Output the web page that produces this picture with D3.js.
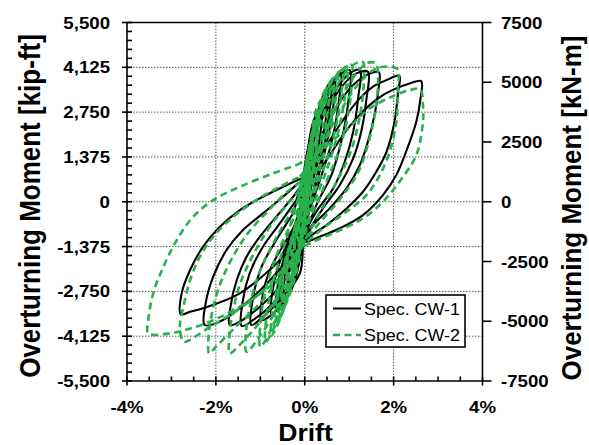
<!DOCTYPE html>
<html><head><meta charset="utf-8">
<script src="https://cdn.jsdelivr.net/npm/d3@7/dist/d3.min.js"></script>
<style>
html,body{margin:0;padding:0;background:#fff;}
svg{display:block;font-family:"Liberation Sans",Arial,sans-serif;}
</style></head>
<body><svg id="c" width="589" height="445"></svg>
<script>
// ---- axis / tick data ----
const xTicks = [-4, -2, 0, 2, 4];
const xTickLabels = ["-4%", "-2%", "0%", "2%", "4%"];
const yLeftTicks = [-5500, -4125, -2750, -1375, 0, 1375, 2750, 4125, 5500];
const yLeftLabels = ["-5,500", "-4,125", "-2,750", "-1,375", "0", "1,375", "2,750", "4,125", "5,500"];
const yRightTicks = [-7500, -5000, -2500, 0, 2500, 5000, 7500];
const seriesNames = ["Spec. CW-1", "Spec. CW-2"];

// ---- Spec. CW-1 loops: [drift %, moment kip-ft] ----
const cw1_loop1 = [[-0.11,700],[0.26,900],[0.56,1432],[0.86,2046],[1.16,2558],[1.46,2966],[1.76,3272],[2.06,3478],[2.36,3630],[2.62,3700],[2.6,3120],[2.51,2455],[2.28,1535],[2.06,820],[1.76,205],[1.31,-410],[0.79,-815],[0.34,-1073],[0.04,-1227],[-0.19,-1276],[-0.71,-1993],[-1.46,-2810],[-2.29,-3270],[-2.58,-3374],[-2.79,-3454],[-2.77,-2810],[-2.58,-2095],[-2.29,-1380],[-1.91,-767],[-1.46,-255],[-0.94,153],[-0.49,460],[-0.11,700]];
const cw1_loop2 = [[-0.15,563],[0.11,717],[0.34,1331],[0.64,2046],[0.94,2659],[1.24,3171],[1.53,3527],[1.84,3733],[2.13,3865],[2.1,3374],[2.02,2454],[1.84,1534],[1.61,920],[1.31,307],[0.94,-204],[0.49,-715],[0.11,-1073],[-0.26,-1583],[-0.71,-2300],[-1.24,-3015],[-1.84,-3628],[-2.25,-3782],[-2.23,-3117],[-2.06,-2300],[-1.76,-1482],[-1.39,-868],[-0.94,-358],[-0.49,153],[-0.15,563]];
const cw1_loop3 = [[-0.26,153],[-0.04,613],[0.19,1432],[0.49,2352],[0.79,3067],[1.09,3579],[1.39,3886],[1.67,3968],[1.66,3478],[1.57,2659],[1.42,1840],[1.24,1126],[0.94,410],[0.56,-204],[0.19,-715],[0.0,-1150],[-0.19,-1750],[-0.56,-2607],[-1.01,-3220],[-1.46,-3680],[-1.69,-3782],[-1.67,-3220],[-1.53,-2401],[-1.31,-1687],[-1.01,-1073],[-0.64,-460],[-0.26,153]];
const cw1_loop4 = [[-0.19,51],[0.05,1000],[0.26,2147],[0.56,2966],[0.86,3579],[1.16,3938],[1.42,3987],[1.39,3171],[1.27,2147],[1.09,1331],[0.79,512],[0.41,-204],[0.05,-1000],[-0.1,-1600],[-0.26,-2300],[-0.71,-3117],[-1.16,-3628],[-1.42,-3812],[-1.39,-3015],[-1.24,-2196],[-0.94,-1380],[-0.56,-665],[-0.19,51]];
const cw1_loop5 = [[-0.26,-358],[-0.05,700],[0.11,1840],[0.41,2760],[0.71,3478],[1.01,3938],[1.24,4040],[1.2,3171],[1.09,2147],[0.9,1227],[0.64,410],[0.26,-307],[0.0,-1000],[-0.11,-2196],[-0.49,-2914],[-0.94,-3527],[-1.2,-3782],[-1.16,-2914],[-0.97,-1993],[-0.64,-1175],[-0.26,-358]];
const cw1_loop6 = [[-0.11,-460],[0.0,800],[0.19,2454],[0.49,3272],[0.79,3886],[1.01,4040],[0.97,2966],[0.82,1840],[0.6,819],[0.26,-102],[0.0,-1100],[-0.2,-2300],[-0.34,-2810],[-0.71,-3424],[-0.97,-3628],[-0.94,-2810],[-0.75,-1993],[-0.41,-1175],[-0.11,-460]];
const cw1_loop7 = [[-0.1,-500],[0.05,1200],[0.25,2500],[0.5,3400],[0.8,3950],[0.75,2900],[0.6,1800],[0.35,700],[0.1,-300],[-0.1,-1500],[-0.3,-2600],[-0.55,-3200],[-0.75,-3450],[-0.72,-2700],[-0.55,-1800],[-0.3,-1000],[-0.1,-500]];
const cw1_loop8 = [[-0.08,-400],[0.05,1000],[0.2,2200],[0.4,3200],[0.6,3700],[0.55,2700],[0.42,1600],[0.22,500],[0.05,-500],[-0.1,-1500],[-0.3,-2500],[-0.55,-3100],[-0.52,-2400],[-0.38,-1500],[-0.2,-800],[-0.08,-400]];
const cw1_loop9 = [[-0.05,-300],[0.05,900],[0.18,1900],[0.4,3000],[0.36,2200],[0.25,1200],[0.1,200],[-0.05,-800],[-0.2,-1800],[-0.38,-2600],[-0.34,-1900],[-0.2,-1100],[-0.05,-300]];
const cw1_loop10 = [[-0.03,-200],[0.05,700],[0.22,2000],[0.18,1300],[0.08,400],[-0.05,-500],[-0.22,-1800],[-0.18,-1100],[-0.08,-600],[-0.03,-200]];
const cw1_loop11 = [[-0.06,-350],[0.08,1300],[0.3,2700],[0.52,3550],[0.48,2600],[0.32,1400],[0.12,300],[-0.05,-900],[-0.25,-2300],[-0.46,-2900],[-0.43,-2100],[-0.25,-1200],[-0.06,-350]];
const cw1_loop12 = [[-0.12,-300],[0.1,1700],[0.35,2900],[0.68,3800],[0.64,2900],[0.48,1700],[0.25,500],[0.02,-700],[-0.2,-2100],[-0.45,-2950],[-0.64,-3350],[-0.6,-2500],[-0.42,-1500],[-0.12,-300]];

// ---- Spec. CW-2 loops ----
const cw2_loop1 = [[-0.19,1125],[0.3,1500],[0.64,1900],[1.01,2300],[1.46,2862],[2.0,3250],[2.35,3420],[2.6,3450],[2.66,2950],[2.66,2454],[2.51,1432],[2.13,613],[1.76,0],[1.31,-511],[0.71,-920],[0.19,-1227],[-0.1,-1450],[-0.5,-2250],[-1.2,-3000],[-2.0,-3600],[-2.6,-3900],[-3.03,-4037],[-3.52,-4037],[-3.52,-3628],[-3.41,-2810],[-3.18,-1993],[-2.88,-1175],[-2.51,-460],[-2.06,51],[-1.46,460],[-0.71,870],[-0.19,1125]];
const cw2_loop2 = [[-0.11,767],[0.3,1500],[0.6,2300],[0.9,3000],[1.2,3600],[1.5,4000],[1.76,4140],[2.06,4100],[2.12,3900],[2.1,3579],[2.06,2454],[1.91,1534],[1.69,819],[1.39,205],[0.94,-307],[0.41,-818],[0.0,-1300],[-0.5,-2100],[-1.0,-2800],[-1.6,-3400],[-2.2,-3900],[-2.6,-4250],[-2.73,-4294],[-2.81,-3833],[-2.73,-3220],[-2.58,-2401],[-2.36,-1687],[-2.06,-1073],[-1.61,-460],[-1.09,51],[-0.56,460],[-0.11,767]];
const cw2_loop3 = [[-0.1,600],[0.3,1600],[0.6,2600],[0.9,3400],[1.2,4000],[1.4,4250],[1.6,4250],[1.65,3800],[1.6,2900],[1.45,1900],[1.2,900],[0.8,100],[0.3,-700],[0.0,-1200],[-0.5,-2200],[-1.0,-3100],[-1.6,-3900],[-2.0,-4450],[-2.15,-4650],[-2.17,-4242],[-2.1,-3500],[-1.95,-2700],[-1.7,-1900],[-1.3,-1000],[-0.8,-250],[-0.4,300],[-0.1,600]];
const cw2_loop4 = [[-0.15,300],[0.15,1500],[0.4,2600],[0.7,3500],[1.0,4100],[1.3,4300],[1.33,3700],[1.25,2700],[1.05,1600],[0.75,700],[0.35,-300],[0.0,-1200],[-0.4,-2400],[-0.9,-3500],[-1.4,-4300],[-1.69,-4650],[-1.7,-4200],[-1.62,-3400],[-1.45,-2500],[-1.15,-1600],[-0.75,-700],[-0.15,300]];
const cw2_loop5 = [[-0.15,0],[0.1,1500],[0.35,2700],[0.65,3600],[0.9,4100],[1.05,4200],[1.05,3500],[0.95,2500],[0.75,1500],[0.45,500],[0.1,-600],[-0.2,-1900],[-0.6,-3200],[-1.0,-4100],[-1.31,-4600],[-1.32,-4000],[-1.22,-3100],[-1.0,-2100],[-0.6,-1000],[-0.15,0]];
const cw2_loop6 = [[-0.1,-100],[0.1,1600],[0.3,2700],[0.55,3600],[0.85,4050],[0.82,3300],[0.7,2300],[0.5,1300],[0.2,200],[-0.1,-1200],[-0.4,-2700],[-0.75,-3900],[-1.0,-4450],[-1.0,-3800],[-0.9,-2800],[-0.65,-1700],[-0.35,-800],[-0.1,-100]];
const cw2_loop7 = [[-0.1,-200],[0.05,1300],[0.25,2600],[0.45,3400],[0.65,3700],[0.6,2800],[0.45,1700],[0.25,600],[0.0,-700],[-0.25,-2200],[-0.5,-3400],[-0.75,-4100],[-0.72,-3300],[-0.55,-2300],[-0.3,-1200],[-0.1,-200]];
const cw2_loop8 = [[-0.08,-200],[0.05,1100],[0.2,2200],[0.45,3200],[0.42,2400],[0.3,1400],[0.12,400],[-0.05,-800],[-0.25,-2300],[-0.55,-3500],[-0.52,-2700],[-0.38,-1700],[-0.2,-800],[-0.08,-200]];
const cw2_loop9 = [[-0.06,-100],[0.05,900],[0.3,2500],[0.27,1700],[0.15,700],[0.0,-400],[-0.15,-1500],[-0.38,-2800],[-0.35,-2000],[-0.22,-1100],[-0.06,-100]];
const cw2_loop10 = [[-0.04,0],[0.05,800],[0.18,1700],[0.15,1000],[0.06,200],[-0.05,-700],[-0.25,-2000],[-0.22,-1300],[-0.12,-600],[-0.04,0]];
const cw2_loop11 = [[-0.02,0],[0.1,1000],[0.07,500],[0.0,-200],[-0.15,-1200],[-0.12,-700],[-0.02,0]];
const cw2_loop12 = [[-0.12,-150],[0.08,1500],[0.28,2700],[0.5,3500],[0.72,3900],[0.68,3000],[0.52,1900],[0.3,800],[0.05,-500],[-0.2,-2000],[-0.45,-3200],[-0.68,-3900],[-0.65,-3100],[-0.48,-2100],[-0.28,-1100],[-0.12,-150]];
const cw2_loop13 = [[-0.05,-250],[0.1,1400],[0.26,2500],[0.4,3100],[0.55,3500],[0.5,2600],[0.36,1500],[0.18,500],[-0.02,-700],[-0.2,-2100],[-0.4,-3000],[-0.62,-3700],[-0.6,-2900],[-0.45,-1900],[-0.25,-900],[-0.05,-250]];
const cw2_loop14 = [[-0.03,-150],[0.06,1000],[0.15,2000],[0.25,2800],[0.36,3100],[0.32,2300],[0.22,1300],[0.1,300],[-0.04,-800],[-0.15,-1900],[-0.3,-2700],[-0.46,-3200],[-0.43,-2500],[-0.3,-1500],[-0.15,-700],[-0.03,-150]];
const cw2_loop15 = [[-0.02,-50],[0.04,800],[0.1,1500],[0.2,2300],[0.17,1600],[0.1,800],[0.02,-100],[-0.08,-1000],[-0.18,-1800],[-0.3,-2400],[-0.27,-1700],[-0.17,-900],[-0.02,-50]];
const cw2_loop16 = [[-0.15,100],[0.12,1700],[0.38,2900],[0.62,3700],[0.95,4150],[0.92,3400],[0.78,2300],[0.55,1200],[0.25,100],[-0.05,-1100],[-0.3,-2400],[-0.6,-3600],[-0.88,-4300],[-0.86,-3500],[-0.72,-2500],[-0.45,-1300],[-0.15,100]];

const cw1Loops = [cw1_loop1, cw1_loop2, cw1_loop3, cw1_loop4, cw1_loop5, cw1_loop6, cw1_loop7, cw1_loop8, cw1_loop9, cw1_loop10, cw1_loop11, cw1_loop12];
const cw2Loops = [cw2_loop1, cw2_loop2, cw2_loop3, cw2_loop4, cw2_loop5, cw2_loop6, cw2_loop7, cw2_loop8, cw2_loop9, cw2_loop10, cw2_loop11, cw2_loop12, cw2_loop13, cw2_loop14, cw2_loop15, cw2_loop16];

// ---- layout ----
const L = 127, R = 482.5, T = 22.5, B = 381;
const svg = d3.select("#c");
const x = d3.scaleLinear().domain([-4, 4]).range([L, R]);
const yL = d3.scaleLinear().domain([-5500, 5500]).range([B, T]);
const yR = d3.scaleLinear().domain([-7500, 7500]).range([B, T]);
const GREEN = "#27b04b";
const SX = 1.13;

function txt(g, xx, yy, s, opts) {
  return g.append("text")
    .attr("transform", `translate(${xx},${yy}) scale(${opts.sx || 1},1)`)
    .attr("font-size", opts.size).attr("font-weight", opts.weight || "bold")
    .attr("text-anchor", opts.anchor || "start")
    .attr("fill", "#000").text(s);
}

// grid
const grid = svg.append("g").attr("stroke", "#555").attr("stroke-width", 1).attr("stroke-dasharray", "1.5,1.5");
[-2, 0, 2].forEach(v => grid.append("line").attr("x1", x(v)).attr("x2", x(v)).attr("y1", T).attr("y2", B));
yLeftTicks.filter(v => Math.abs(v) < 5500).forEach(v => grid.append("line").attr("x1", L).attr("x2", R).attr("y1", yL(v)).attr("y2", yL(v)));

// data
const line = d3.line().x(d => x(d[0])).y(d => yL(d[1])).curve(d3.curveCatmullRom.alpha(0.5));
svg.append("clipPath").attr("id", "pc").append("rect").attr("x", L).attr("y", T).attr("width", R - L).attr("height", B - T);
const dg = svg.append("g").attr("clip-path", "url(#pc)");
dg.selectAll("path.cw1").data(cw1Loops).join("path").attr("class", "cw1")
  .attr("d", line).attr("fill", "none").attr("stroke", "#000").attr("stroke-width", 2.1).attr("stroke-linejoin", "round");
dg.selectAll("path.cw2").data(cw2Loops).join("path").attr("class", "cw2")
  .attr("d", line).attr("fill", "none").attr("stroke", GREEN).attr("stroke-width", 2.6).attr("stroke-dasharray", "7,4.5");

// axes
const ax = svg.append("g").attr("stroke", "#000").attr("stroke-width", 1.6).attr("fill", "none");
ax.append("line").attr("x1", L).attr("x2", R).attr("y1", T).attr("y2", T);
ax.append("line").attr("x1", L).attr("x2", R).attr("y1", B).attr("y2", B);
ax.append("line").attr("x1", L).attr("x2", L).attr("y1", T).attr("y2", B);
ax.append("line").attr("x1", R).attr("x2", R).attr("y1", T).attr("y2", B);
d3.range(-5500, 5501, 275).forEach(v => {
  const major = yLeftTicks.includes(v);
  ax.append("line").attr("x1", major ? L - 5 : L).attr("x2", L + 5).attr("y1", yL(v)).attr("y2", yL(v));
});
d3.range(-4, 4.01, 0.5).forEach(v => {
  const major = xTicks.includes(v);
  ax.append("line").attr("x1", x(v)).attr("x2", x(v)).attr("y1", B - 4.5).attr("y2", major ? B + 4.5 : B);
});
yRightTicks.forEach(v => ax.append("line").attr("x1", R).attr("x2", R + 9).attr("y1", yR(v)).attr("y2", yR(v)));

// tick labels
const tl = svg.append("g");
yLeftTicks.forEach((v, i) => txt(tl, 110, yL(v) + 6, yLeftLabels[i], {size: 16.5, anchor: "end", sx: SX}));
yRightTicks.forEach(v => txt(tl, 501, yR(v) + 6, String(v), {size: 16.5, anchor: "start", sx: SX}));
xTicks.forEach((v, i) => txt(tl, x(v), 412.5, xTickLabels[i], {size: 16.5, anchor: "middle", sx: SX}));

// titles
txt(svg, 305.5, 441, "Drift", {size: 23.5, anchor: "middle", sx: SX});
svg.append("text").attr("transform", `translate(40,206) rotate(-90) scale(1,${SX})`)
  .attr("font-size", 26).attr("font-weight", "bold").attr("text-anchor", "middle").text("Overturning Moment [kip-ft]");
svg.append("text").attr("transform", `translate(581,208) rotate(-90) scale(1,1.08)`)
  .attr("font-size", 26).attr("font-weight", "bold").attr("text-anchor", "middle").text("Overturning Moment [kN-m]");

// legend
const lg = svg.append("g");
lg.append("rect").attr("x", 326).attr("y", 295).attr("width", 139).attr("height", 52)
  .attr("fill", "#fff").attr("stroke", "#000").attr("stroke-width", 1.6);
lg.append("line").attr("x1", 333).attr("x2", 361).attr("y1", 308.5).attr("y2", 308.5).attr("stroke", "#000").attr("stroke-width", 2);
lg.append("line").attr("x1", 333).attr("x2", 361).attr("y1", 335).attr("y2", 335).attr("stroke", GREEN).attr("stroke-width", 2.6).attr("stroke-dasharray", "7,4.5");
txt(lg, 364, 314.5, seriesNames[0], {size: 17, weight: "normal", sx: 1.05});
txt(lg, 364, 341, seriesNames[1], {size: 17, weight: "normal", sx: 1.05});
</script></body></html>
